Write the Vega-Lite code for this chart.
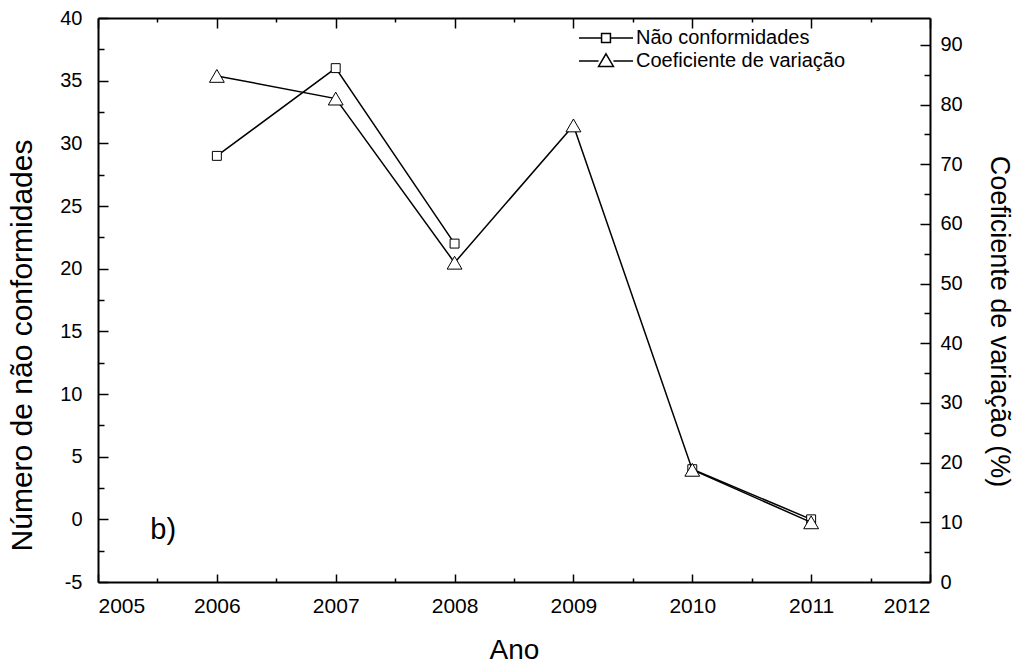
{
  "$schema": "https://vega.github.io/schema/vega-lite/v6.json",
  "width": 832,
  "height": 564,
  "autosize": {"type": "none"},
  "padding": {"left": 98, "top": 18, "right": 85, "bottom": 82},
  "background": "white",
  "config": {
    "font": "Liberation Sans",
    "view": {"stroke": null},
    "axis": {
      "domainColor": "black",
      "domainWidth": 2,
      "ticks": false,
      "grid": false,
      "gridColor": "black",
      "gridWidth": 1.5,
      "gridOpacity": 1,
      "labelColor": "black",
      "titleColor": "black",
      "labelFont": "Liberation Sans",
      "titleFont": "Liberation Sans",
      "labelFontSize": 20,
      "titleFontWeight": "normal"
    }
  },
  "datasets": {
    "dados": [
      {"ano": 2006, "nc": 29, "cv": 84.8},
      {"ano": 2007, "nc": 36, "cv": 81},
      {"ano": 2008, "nc": 22, "cv": 53.5},
      {"ano": 2009, "nc": null, "cv": 76.5},
      {"ano": 2010, "nc": 4, "cv": 18.8},
      {"ano": 2011, "nc": 0, "cv": 10}
    ],
    "rotulo": [{"ano": 2005.44, "nc": -0.85, "txt": "b)"}],
    "legenda": [{"serie": "Não conformidades"}, {"serie": "Coeficiente de variação"}]
  },
  "layer": [
    {
      "layer": [
        {
          "data": {"name": "dados"},
          "encoding": {
            "x": {
              "field": "ano", "type": "quantitative",
              "scale": {"domain": [2005, 2012], "nice": false, "zero": false},
              "axis": {
                "orient": "bottom",
                "title": "Ano",
                "titleFontSize": 28,
                "titleBaseline": "alphabetic",
                "titleY": 76,
                "format": "d",
                "values": [2005, 2006, 2007, 2008, 2009, 2010, 2011, 2012],
                "grid": true,
                "gridDash": [10, 3000],
                "labelPadding": 13,
                "labelFontSize": 21
              }
            },
            "y": {
              "field": "nc", "type": "quantitative",
              "scale": {"domain": [-5, 40], "nice": false, "zero": false},
              "axis": {
                "orient": "left",
                "title": "Número de não conformidades",
                "titleFontSize": 30,
                "titleBaseline": "alphabetic",
                "titleX": -67,
                "titleY": 327,
                "values": [-5, 0, 5, 10, 15, 20, 25, 30, 35, 40],
                "labelExpr": "replace(datum.label, '\u2212', '-')",
                "grid": true,
                "gridDash": [10, 3000],
                "labelPadding": 16
              }
            }
          },
          "layer": [
            {"mark": {"type": "line", "color": "black", "strokeWidth": 1.5, "invalid": "break-paths-show-domains"}},
            {"mark": {"type": "point", "shape": "square", "size": 80, "filled": true, "fill": "white", "stroke": "black", "strokeWidth": 1, "opacity": 1}},
            {
              "data": {"name": "rotulo"},
              "mark": {"type": "text", "align": "left", "baseline": "middle", "fontSize": 29, "font": "Liberation Sans", "color": "black"},
              "encoding": {"text": {"field": "txt"}}
            }
          ]
        },
        {
          "data": {"name": "dados"},
          "mark": {"type": "point", "opacity": 0},
          "encoding": {
            "x": {
              "field": "ano", "type": "quantitative",
              "axis": {
                "orient": "bottom", "title": null, "labels": false, "domain": false,
                "values": [2005.5, 2006.5, 2007.5, 2008.5, 2009.5, 2010.5, 2011.5],
                "grid": true, "gridDash": [4, 3000]
              }
            },
            "y": {
              "field": "nc", "type": "quantitative",
              "axis": {
                "orient": "left", "title": null, "labels": false, "domain": false,
                "values": [-2.5, 2.5, 7.5, 12.5, 17.5, 22.5, 27.5, 32.5, 37.5],
                "grid": true, "gridDash": [6, 3000]
              }
            }
          }
        }
      ],
      "resolve": {"axis": {"x": "independent", "y": "independent"}}
    },
    {
      "layer": [
        {
          "data": {"name": "dados"},
          "encoding": {
            "x": {
              "field": "ano", "type": "quantitative",
              "scale": {"domain": [2005, 2012], "nice": false, "zero": false},
              "axis": {
                "orient": "top",
                "title": null,
                "labels": false,
                "values": [2005, 2006, 2007, 2008, 2009, 2010, 2011, 2012],
                "grid": true,
                "gridDash": [8, 3000]
              }
            },
            "y": {
              "field": "cv", "type": "quantitative",
              "scale": {"domain": [0, 94.5], "nice": false, "zero": false},
              "axis": {
                "orient": "right",
                "title": "Coeficiente de variação (%)",
                "titleFontSize": 27,
                "titleAngle": 90,
                "titleBaseline": "alphabetic",
                "titleX": 60,
                "titleY": 303,
                "values": [0, 10, 20, 30, 40, 50, 60, 70, 80, 90],
                "grid": true,
                "gridDash": [10, 3000],
                "labelPadding": 10
              }
            }
          },
          "layer": [
            {"mark": {"type": "line", "color": "black", "strokeWidth": 1.5}},
            {"mark": {"type": "point", "shape": "triangle-up", "size": 220, "filled": true, "fill": "white", "stroke": "black", "strokeWidth": 1, "opacity": 1}}
          ]
        },
        {
          "data": {"name": "dados"},
          "mark": {"type": "point", "opacity": 0},
          "encoding": {
            "x": {
              "field": "ano", "type": "quantitative",
              "axis": {
                "orient": "top", "title": null, "labels": false, "domain": false,
                "values": [2005.5, 2006.5, 2007.5, 2008.5, 2009.5, 2010.5, 2011.5],
                "grid": true, "gridDash": [4, 3000]
              }
            },
            "y": {
              "field": "cv", "type": "quantitative",
              "axis": {
                "orient": "right", "title": null, "labels": false, "domain": false,
                "values": [5, 15, 25, 35, 45, 55, 65, 75, 85],
                "grid": true, "gridDash": [6, 3000]
              }
            }
          }
        }
      ],
      "resolve": {"axis": {"x": "independent", "y": "independent"}}
    },
    {
      "data": {"name": "legenda"},
      "mark": {"type": "point", "filled": true, "fill": "white", "stroke": "black", "opacity": 0},
      "encoding": {
        "shape": {
          "field": "serie", "type": "nominal",
          "scale": {
            "domain": ["Não conformidades", "Coeficiente de variação"],
            "range": [
              "M-2.25,0H-0.37M0.37,0H2.25M-0.37,-0.37H0.37V0.37H-0.37Z",
              "M-2.25,0H-0.62M0.62,0H2.25M0,-0.6L0.62,0.45L-0.62,0.45Z"
            ]
          },
          "legend": {
            "orient": "none",
            "legendX": 495,
            "legendY": 7,
            "title": null,
            "labelFont": "Liberation Sans",
            "labelFontSize": 20,
            "labelColor": "black",
            "labelLimit": 500,
            "labelOffset": 17,
            "symbolSize": 576,
            "rowPadding": 0,
            "encode": {"symbols": {"opacity": {"value": 1}, "fillOpacity": {"value": 1}, "strokeOpacity": {"value": 1}, "fill": {"value": "white"}, "stroke": {"value": "black"}, "strokeWidth": {"value": 1.5}}}
          }
        }
      }
    }
  ],
  "resolve": {
    "scale": {"y": "independent", "shape": "independent"},
    "axis": {"x": "independent", "y": "independent"}
  }
}
